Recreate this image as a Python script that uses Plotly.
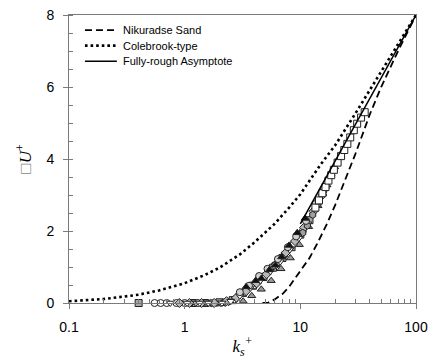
import plotly.graph_objects as go

# ---- curves ----
nik_ks = [4.7, 5.2, 6, 7, 8, 9, 10, 12, 14, 17, 20, 25, 30, 40, 50, 70, 100]
nik_du = [0.0, 0.0, 0.1, 0.25, 0.45, 0.68, 0.88, 1.25, 1.65, 2.2, 2.72, 3.5, 4.15, 5.25, 6.0, 7.0, 8.0]

cole_ks = [0.1, 0.2, 0.4, 0.6, 1, 1.5, 2, 3, 4, 6, 8, 10, 15, 20, 30, 50, 70, 100]
cole_du = [0.05, 0.11, 0.23, 0.35, 0.55, 0.78, 0.98, 1.35, 1.68, 2.2, 2.65, 3.02, 3.85, 4.38, 5.27, 6.42, 7.18, 8.0]

rough_ks = [10, 100]
rough_du = [2.2, 8.0]

# ---- measured data (several sets) ----
s1_ks = [0.4, 1.2, 1.5, 2.0, 2.6, 3.2, 3.9, 4.8, 5.8, 7.0, 8.4, 10.0, 12.0]
s1_du = [0.0, 0.0, 0.0, 0.02, 0.08, 0.28, 0.48, 0.72, 0.98, 1.25, 1.55, 1.9, 2.3]

s2_ks = [0.55, 0.62, 0.7, 0.85, 1.0, 1.3, 1.7, 2.2, 2.7, 3.3, 4.0, 4.9, 6.0, 7.3, 8.8, 10.5]
s2_du = [0.0, 0.0, 0.0, 0.0, 0.0, 0.0, 0.0, 0.02, 0.1, 0.3, 0.5, 0.75, 1.05, 1.35, 1.65, 2.0]

s3_ks = [0.9, 1.1, 1.4, 1.8, 2.3, 2.8, 3.4, 4.2, 5.1, 6.2, 7.5, 9.0, 10.8, 13.0, 15.5]
s3_du = [0.0, 0.0, 0.0, 0.0, 0.05, 0.15, 0.33, 0.55, 0.8, 1.08, 1.4, 1.72, 2.1, 2.55, 3.0]

s4_ks = [0.75, 1.05, 1.35, 1.6, 2.1, 2.5, 3.0, 3.7, 4.5, 5.5, 6.7, 8.1, 9.7, 11.6, 14.0, 16.5]
s4_du = [0.0, 0.0, 0.0, 0.0, 0.0, 0.05, 0.2, 0.42, 0.62, 0.88, 1.15, 1.48, 1.8, 2.2, 2.7, 3.15]

s5_ks = [3.4, 4.1, 4.6, 5.4, 6.1, 6.9, 8.0, 9.4, 11.0]
s5_du = [0.45, 0.62, 0.68, 0.92, 1.05, 1.28, 1.6, 1.95, 2.35]

s6_ks = [13.5, 14.5, 15.5, 16.5, 17.5, 18.5, 19.5, 21, 22.5, 24, 25.5, 27, 29, 31, 33.5, 36]
s6_du = [2.65, 2.85, 3.05, 3.22, 3.4, 3.55, 3.7, 3.9, 4.08, 4.25, 4.42, 4.6, 4.8, 4.98, 5.15, 5.3]

s7_ks = [10.5, 11.5, 12.8, 14.2, 15.8, 17.5, 19.3, 21.0]
s7_du = [1.95, 2.15, 2.45, 2.75, 3.1, 3.4, 3.7, 3.92]

s8_ks = [3.0, 3.6, 4.4, 5.2, 6.4, 7.8, 9.2, 11.2, 13.5, 16.0, 18.5]
s8_du = [0.3, 0.48, 0.75, 0.95, 1.22, 1.55, 1.85, 2.28, 2.75, 3.18, 3.55]

s9_ks = [3.2, 3.8, 4.6, 5.6, 6.8, 8.2, 9.8, 11.8, 14.2, 17.0, 19.8]
s9_du = [0.05, 0.2, 0.38, 0.62, 0.95, 1.25, 1.62, 2.12, 2.7, 3.28, 3.78]

s10_ks = [1.15, 1.25, 1.45, 1.55, 1.7, 1.9, 2.05, 2.25, 2.4]
s10_du = [0.0, 0.0, 0.0, 0.0, 0.0, 0.0, 0.0, 0.0, 0.02]

fig = go.Figure()

def pts(x, y, symbol, fill, size=7):
    fig.add_trace(go.Scatter(
        x=x, y=y, mode="markers", showlegend=False, cliponaxis=False,
        marker=dict(symbol=symbol, size=size, color=fill,
                    line=dict(color="#222222", width=1))))

pts(s9_ks, s9_du, "triangle-up", "#9a9a9a")
pts(s1_ks, s1_du, "square", "#a8a8a8")
pts(s2_ks, s2_du, "circle", "white")
pts(s10_ks, s10_du, "triangle-down", "#c0c0c0")
pts(s3_ks, s3_du, "diamond", "#b8b8b8")
pts(s4_ks, s4_du, "triangle-down", "white")
pts(s7_ks, s7_du, "hexagon", "#a0a0a0")
pts(s8_ks, s8_du, "circle", "#d0d0d0")
pts(s5_ks, s5_du, "triangle-up", "#111111")
pts(s6_ks, s6_du, "square", "white")

NIK_DASH = "7px,4px"
COLE_DASH = "2.6px,3px"
fig.add_trace(go.Scatter(x=nik_ks, y=nik_du, mode="lines", showlegend=False,
                         line=dict(color="black", width=1.8, dash=NIK_DASH)))
fig.add_trace(go.Scatter(x=cole_ks, y=cole_du, mode="lines", showlegend=False,
                         line=dict(color="black", width=2.6, dash=COLE_DASH)))
fig.add_trace(go.Scatter(x=rough_ks, y=rough_du, mode="lines", showlegend=False,
                         line=dict(color="black", width=1.5)))

# ---- legend (key lines + labels in paper space) ----
legend_names = ["Nikuradse Sand", "Colebrook-type", "Fully-rough Asymptote"]
legend_styles = [dict(width=1.8, dash=NIK_DASH), dict(width=2.6, dash=COLE_DASH), dict(width=1.5)]
row_y = [0.9476, 0.8935, 0.8394]
for name, st, yy in zip(legend_names, legend_styles, row_y):
    fig.add_shape(type="line", xref="paper", yref="paper", x0=0.046, x1=0.138, y0=yy, y1=yy,
                  line=dict(color="black", **st))
    fig.add_annotation(xref="paper", yref="paper", x=0.149, y=yy, text=name, showarrow=False,
                       xanchor="left", yanchor="middle",
                       font=dict(family="Liberation Sans, Arial", size=11, color="black"))

axcol = "#7a7a7a"
fig.update_layout(
    width=435, height=362,
    margin=dict(l=69, r=18, t=7, b=59),
    paper_bgcolor="white", plot_bgcolor="white",
    font=dict(family="Liberation Sans, Arial", size=14, color="black"),
    showlegend=False,
    xaxis=dict(type="log", range=[-1, 2], showgrid=False, zeroline=False,
               showline=True, linecolor=axcol, linewidth=1, mirror=True,
               ticks="outside", ticklen=5, tickcolor=axcol,
               tickvals=[0.1, 1, 10, 100], ticktext=["0.1", "1", "10", "100"],
               ticklabelstandoff=6, ticklabeloverflow="allow",
               minor=dict(ticks="inside", ticklen=4, tickcolor=axcol,
                          tickvals=[0.2, 0.3, 0.4, 0.5, 0.6, 0.7, 0.8, 0.9,
                                    2, 3, 4, 5, 6, 7, 8, 9,
                                    20, 30, 40, 50, 60, 70, 80, 90]),
               title=dict(text="<i>k<sub>s</sub><sup>+</sup></i>",
                          font=dict(family="Liberation Serif, Times New Roman", size=17),
                          standoff=6)),
    yaxis=dict(range=[0, 8], showgrid=False, zeroline=False,
               showline=True, linecolor=axcol, linewidth=1, mirror=True,
               ticks="outside", ticklen=5, tickcolor=axcol,
               tickvals=[0, 2, 4, 6, 8], ticktext=["0", "2", "4", "6", "8"],
               ticklabelstandoff=6, ticklabeloverflow="allow",
               minor=dict(ticks="inside", ticklen=4, tickcolor=axcol, dtick=0.5),
               title=dict(text="<span style='color:#888888'>□</span><i>U</i><sup>+</sup>",
                          font=dict(family="Liberation Serif, Times New Roman", size=17),
                          standoff=10)),
)

fig.write_html("out.html", config={"displayModeBar": False},
               post_script="document.body.style.margin='0';document.body.style.overflow='hidden';")
